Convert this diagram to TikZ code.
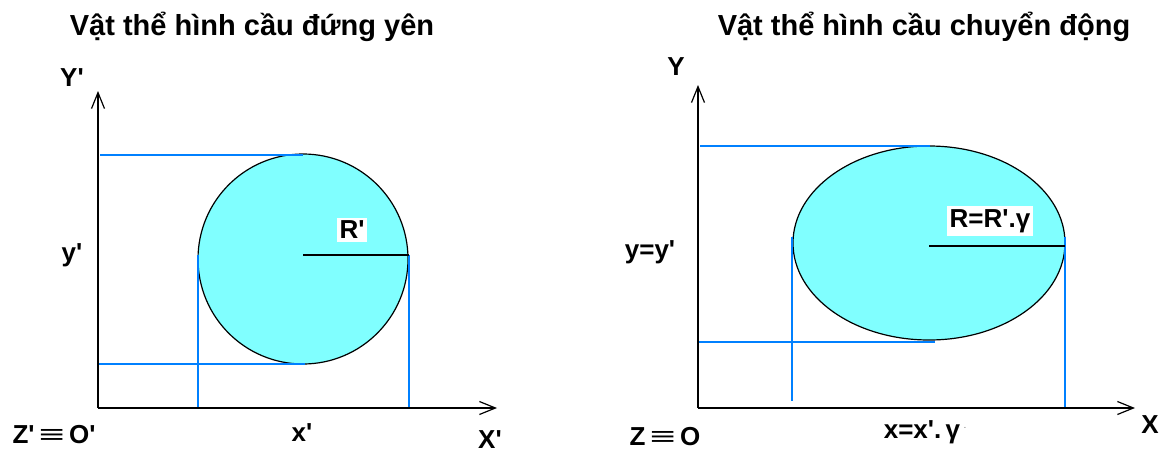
\documentclass[tikz,border=0pt]{standalone}
\usepackage{fontspec}
\setmainfont{Liberation Sans}
\usetikzlibrary{arrows.meta}
\definecolor{ballcyan}{RGB}{128,255,255}
\definecolor{guideblue}{RGB}{0,128,255}
\newcommand\pq{\textquotesingle}
\begin{document}
\begin{tikzpicture}[x=1pt,y=-1pt,
  axisline/.style={line width=1.6pt,-{Straight Barb[length=16pt,width=13pt,line width=1.2pt]}},
  guide/.style={guideblue,line width=1.8pt},
  bodyshape/.style={draw=black,line width=1.2pt,fill=ballcyan},
  radline/.style={line width=1.6pt},
  lbl/.style={font=\fontsize{26}{30}\selectfont\bfseries,inner sep=0pt},
  ttl/.style={font=\fontsize{29}{33}\selectfont\bfseries,inner sep=0pt},
  tagbox/.style={lbl,fill=white,inner sep=3pt}]
\useasboundingbox (0,0) rectangle (1171,453);

% ---------- left panel ----------
\coordinate (O1) at (98,408);
\coordinate (Y1) at (98,91);
\coordinate (X1) at (497,408);
\coordinate (C1) at (303,259);
\draw[bodyshape] (C1) circle[radius=105];
\coordinate (T1a) at (100,155); \coordinate (T1b) at (303,155);
\coordinate (B1a) at (98,364);  \coordinate (B1b) at (305,364);
\coordinate (L1a) at (198,255); \coordinate (L1b) at (198,408);
\coordinate (R1a) at (409,255); \coordinate (R1b) at (409,408);
\draw[guide] (T1a) -- (T1b);
\draw[guide] (B1a) -- (B1b);
\draw[guide] (L1a) -- (L1b);
\draw[guide] (R1a) -- (R1b);
\draw[radline] (C1 |- 0,255) coordinate (r1s) -- (R1a);
\draw[axisline] (O1) -- (Y1);
\draw[axisline] (O1) -- (X1);
\node[ttl] (title1) at (252,27) {Vật thể hình cầu đứng yên};
\node[lbl] (ylab1) at (72,78) {Y\pq};
\node[lbl] (yval1) at (72,255) {y\pq};
\node[tagbox] (rlab1) at (352,230) {R\pq};
\node[lbl] (olab1) at (54,435) {Z\pq\,\scalebox{1.7}[1]{≡}\,O\pq};
\node[lbl] (xval1) at (302,433) {x\pq};
\node[lbl] (xlab1) at (490,440) {X\pq};

% ---------- right panel ----------
\coordinate (O2) at (698,408);
\coordinate (Y2) at (698,85);
\coordinate (X2) at (1135,408);
\coordinate (C2) at (929,243);
\draw[bodyshape] (C2) ellipse[x radius=136, y radius=97];
\coordinate (T2a) at (700,146); \coordinate (T2b) at (930,146);
\coordinate (B2a) at (698,342); \coordinate (B2b) at (935,342);
\coordinate (L2a) at (792,237); \coordinate (L2b) at (792,401);
\coordinate (R2a) at (1065,237); \coordinate (R2b) at (1065,408);
\coordinate (r2s) at (929,246); \coordinate (r2e) at (1065,246);
\draw[guide] (T2a) -- (T2b);
\draw[guide] (B2a) -- (B2b);
\draw[guide] (L2a) -- (L2b);
\draw[guide] (R2a) -- (R2b);
\draw[radline] (r2s) -- (r2e);
\draw[axisline] (O2) -- (Y2);
\draw[axisline] (O2) -- (X2);
\node[ttl] (title2) at (924,27) {Vật thể hình cầu chuyển động};
\node[lbl] (ylab2) at (676,67) {Y};
\node[lbl] (yval2) at (650,252) {y=y\pq};
\node[tagbox] (rlab2) at (990,221) {R=R\pq.γ};
\node[lbl] (olab2) at (665,437) {Z\,\scalebox{1.7}[1]{≡}\,O};
\node[lbl] (xval2) at (925,432) {x=x\pq.\,γ\,\raisebox{0.35em}{\tiny·}};
\node[lbl] (xlab2) at (1150,425) {X};
\end{tikzpicture}
\end{document}
